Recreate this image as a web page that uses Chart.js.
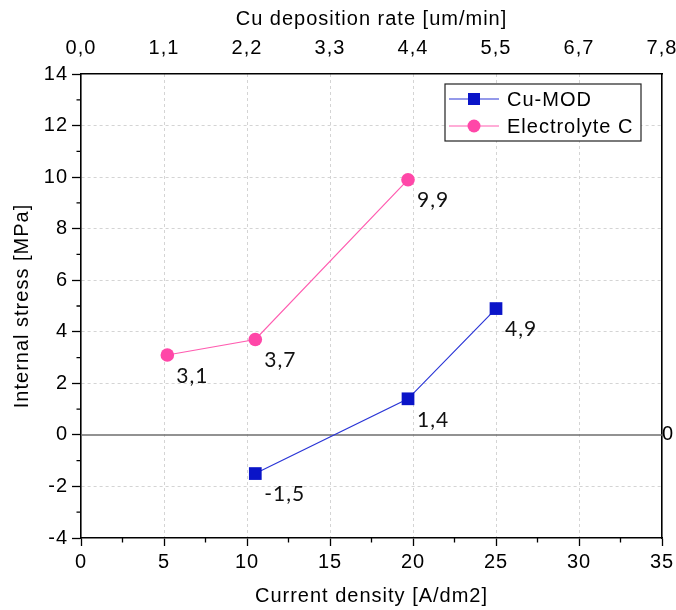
<!DOCTYPE html>
<html>
<head>
<meta charset="utf-8">
<script src="https://cdn.jsdelivr.net/npm/chart.js@4.4.1/dist/chart.umd.min.js"></script>
<style>
  html, body { margin: 0; padding: 0; background: #fff; }
  #chart { display: block; }
</style>
</head>
<body>
<canvas id="chart" width="676" height="610"></canvas>
<script>
// current density [A/dm2] vs internal stress [MPa]
const seriesNames = ["Cu-MOD", "Electrolyte C"];
const densityCuMod = [10.5, 19.7, 25];
const stressCuMod = [-1.5, 1.4, 4.9];
const densityElectrolyteC = [5.2, 10.5, 19.7];
const stressElectrolyteC = [3.1, 3.7, 9.9];
const depositionRateLabels = ["0,0", "1,1", "2,2", "3,3", "4,4", "5,5", "6,7", "7,8"];

const colors = {
  blue: "#0a14c8",
  blueLine: "#2a35d6",
  pink: "#ff47a8",
  pinkLine: "#ff5cb0",
  grid: "#d4d4d4",
  axis: "#000000",
  zero: "#6e6e6e",
};

const axisFont = { family: "'Liberation Sans', Arial, sans-serif", size: 20 };
const labelFont = "21px Lato, 'Open Sans', sans-serif";

function toPoints(xs, ys) {
  return xs.map((x, i) => ({ x, y: ys[i] }));
}

// fixed axis sizes, and no extra room for the end labels
function fixedSize(size) {
  return (scale) => {
    if (scale.isHorizontal()) {
      scale.height = size;
      scale.paddingLeft = 0;
      scale.paddingRight = 0;
    } else {
      scale.width = size;
      scale.paddingTop = 0;
      scale.paddingBottom = 0;
    }
  };
}

function commaNumber(value) {
  return value.toFixed(1).replace(".", ",");
}

// minor ticks, the zero line, value labels and the boxed legend
const decorations = {
  id: "decorations",
  beforeDraw(chart) {
    // text in this chart is set slightly wide
    chart.ctx.letterSpacing = "1px";
  },
  beforeDatasetsDraw(chart) {
    const { ctx, chartArea, scales } = chart;
    const y0 = scales.y.getPixelForValue(0);
    ctx.save();
    ctx.strokeStyle = colors.zero;
    ctx.lineWidth = 1.5;
    ctx.beginPath();
    ctx.moveTo(chartArea.left, y0);
    ctx.lineTo(chartArea.right, y0);
    ctx.stroke();
    ctx.restore();
  },
  afterDraw(chart) {
    const { ctx, chartArea, scales } = chart;
    ctx.save();
    ctx.strokeStyle = colors.axis;
    ctx.lineWidth = 1.3;
    ctx.beginPath();
    for (let v = 2.5; v < 35; v += 5) {
      const px = scales.x.getPixelForValue(v);
      ctx.moveTo(px, chartArea.bottom);
      ctx.lineTo(px, chartArea.bottom + 4.5);
    }
    for (let v = -3; v < 14; v += 2) {
      const py = scales.y.getPixelForValue(v);
      ctx.moveTo(chartArea.left, py);
      ctx.lineTo(chartArea.left - 4.5, py);
    }
    ctx.stroke();

    // value labels beside each marker
    ctx.font = labelFont;
    ctx.fillStyle = "#111";
    ctx.textAlign = "left";
    ctx.textBaseline = "middle";
    chart.data.datasets.forEach((ds, di) => {
      const meta = chart.getDatasetMeta(di);
      meta.data.forEach((pt, i) => {
        ctx.fillText(commaNumber(ds.data[i].y), pt.x + 9, pt.y + 21);
      });
    });

    // legend box
    const box = { x: 445, y: 84, w: 196, h: 57 };
    ctx.fillStyle = "#fff";
    ctx.fillRect(box.x, box.y, box.w, box.h);
    ctx.strokeStyle = "#222";
    ctx.lineWidth = 1.2;
    ctx.strokeRect(box.x, box.y, box.w, box.h);
    ctx.font = `${axisFont.size}px ${axisFont.family}`;
    chart.data.datasets.forEach((ds, di) => {
      const cy = box.y + 15 + di * 27;
      ctx.strokeStyle = ds.borderColor;
      ctx.lineWidth = 1.2;
      ctx.beginPath();
      ctx.moveTo(box.x + 4, cy);
      ctx.lineTo(box.x + 54, cy);
      ctx.stroke();
      ctx.fillStyle = ds.pointBackgroundColor;
      if (ds.pointStyle === "rect") {
        ctx.fillRect(box.x + 29 - 6, cy - 6, 12, 12);
      } else {
        ctx.beginPath();
        ctx.arc(box.x + 29, cy, 6.5, 0, Math.PI * 2);
        ctx.fill();
      }
      ctx.fillStyle = "#000";
      ctx.fillText(ds.label, box.x + 62, cy + 1);
    });
    ctx.restore();
  },
};

new Chart(document.getElementById("chart"), {
  type: "scatter",
  data: {
    datasets: [
      {
        label: seriesNames[0],
        data: toPoints(densityCuMod, stressCuMod),
        showLine: true,
        borderColor: colors.blueLine,
        borderWidth: 1.2,
        pointStyle: "rect",
        pointRadius: 9,
        pointHoverRadius: 9,
        pointBorderWidth: 0,
        pointBackgroundColor: colors.blue,
      },
      {
        label: seriesNames[1],
        data: toPoints(densityElectrolyteC, stressElectrolyteC),
        showLine: true,
        borderColor: colors.pinkLine,
        borderWidth: 1.2,
        pointStyle: "circle",
        pointRadius: 6.8,
        pointHoverRadius: 6.8,
        pointBorderWidth: 0,
        pointBackgroundColor: colors.pink,
      },
    ],
  },
  options: {
    responsive: false,
    animation: false,
    layout: { padding: 0 },
    plugins: { legend: { display: false }, tooltip: { enabled: false } },
    scales: {
      x: {
        type: "linear",
        position: "bottom",
        min: 0,
        max: 35,
        afterFit: fixedSize(72),
        ticks: { stepSize: 5, color: "#000", font: axisFont, padding: 4, maxRotation: 0 },
        grid: {
          color: (ctx) => (ctx.tick && ctx.tick.value > 0 && ctx.tick.value < 35 ? colors.grid : "rgba(0,0,0,0)"),
          lineWidth: 1,
          tickLength: 8,
          tickColor: colors.axis,
          tickWidth: 1.3,
        },
        border: { color: colors.axis, width: 1.6, dash: [3, 3] },
        title: { display: true, text: "Current density [A/dm2]", color: "#000", font: axisFont, padding: { bottom: 2 } },
      },
      x2: {
        type: "linear",
        position: "top",
        min: 0,
        max: 35,
        afterFit: fixedSize(74),
        ticks: {
          stepSize: 5,
          color: "#000",
          font: axisFont,
          padding: 14,
          maxRotation: 0,
          callback: (value, index) => depositionRateLabels[index],
        },
        grid: { drawOnChartArea: false, drawTicks: false },
        border: { color: colors.axis, width: 1.6 },
        title: { display: true, text: "Cu deposition rate [um/min]", color: "#000", font: axisFont, padding: { top: 7 } },
      },
      y: {
        type: "linear",
        position: "left",
        min: -4,
        max: 14,
        afterFit: fixedSize(81),
        ticks: { stepSize: 2, color: "#000", font: axisFont, padding: 4 },
        grid: {
          color: (ctx) => (ctx.tick && ctx.tick.value > -4 && ctx.tick.value < 14 && ctx.tick.value !== 0 ? colors.grid : "rgba(0,0,0,0)"),
          lineWidth: 1,
          tickLength: 9,
          tickColor: colors.axis,
          tickWidth: 1.3,
        },
        border: { color: colors.axis, width: 1.6, dash: [3, 3] },
        title: { display: true, text: "Internal stress [MPa]", color: "#000", font: axisFont, padding: { top: 10 } },
      },
      y2: {
        type: "linear",
        position: "right",
        min: -4,
        max: 14,
        afterFit: fixedSize(14),
        ticks: {
          stepSize: 2,
          color: "#000",
          font: axisFont,
          padding: 0,
          callback: (value) => (value === 0 ? "0" : ""),
        },
        grid: { drawOnChartArea: false, drawTicks: false },
        border: { color: colors.axis, width: 1.6 },
      },
    },
  },
  plugins: [decorations],
});
</script>
</body>
</html>
